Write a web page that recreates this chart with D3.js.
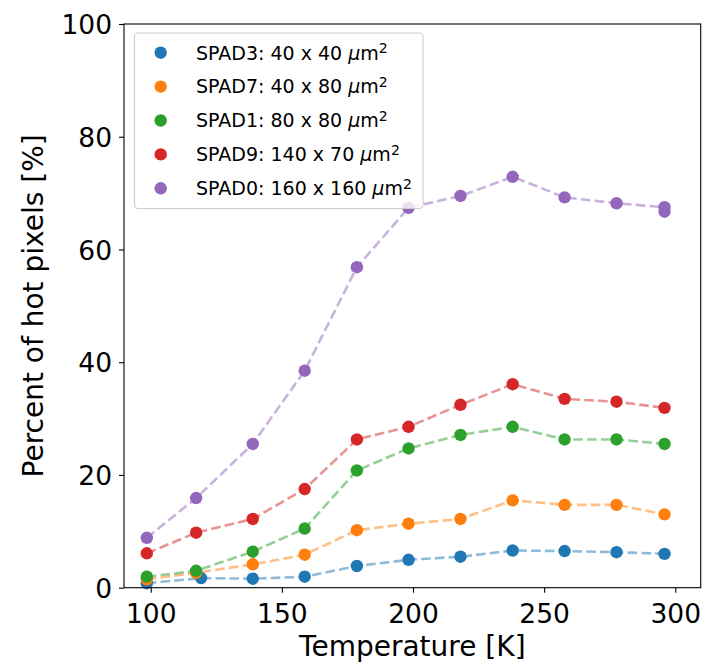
<!DOCTYPE html>
<html>
<head>
<meta charset="utf-8">
<script src="https://cdn.jsdelivr.net/npm/d3@7"></script>
<style>
  html, body { margin: 0; padding: 0; background: #fff; }
  svg { display: block; font-family: "DejaVu Sans", sans-serif; }
</style>
</head>
<body>
<div id="chart"></div>
<script>
// ---- data ----
const temperature = [98.5, 117.3, 138.9, 158.7, 178.6, 198.3, 218.1, 238.0, 257.8, 277.6, 295.9];
const temperatureSpad3 = [98.5, 119.2, 138.9, 158.7, 178.6, 198.3, 218.1, 238.0, 257.8, 277.6, 295.9];
const temperatureSpad0 = [98.5, 117.3, 138.9, 158.7, 178.6, 198.3, 218.1, 238.0, 257.8, 277.6, 295.9, 295.9];
const spad3 = [0.8, 1.7, 1.6, 1.95, 3.85, 4.95, 5.5, 6.6, 6.5, 6.3, 6.0];
const spad7 = [1.5, 2.65, 4.15, 5.85, 10.2, 11.35, 12.2, 15.5, 14.7, 14.7, 13.0];
const spad1 = [1.95, 3.0, 6.4, 10.5, 20.8, 24.7, 27.1, 28.55, 26.3, 26.3, 25.5];
const spad9 = [6.1, 9.75, 12.2, 17.5, 26.3, 28.55, 32.45, 36.1, 33.5, 33.0, 31.9];
const spad0 = [8.85, 15.9, 25.5, 38.5, 56.85, 67.4, 69.5, 72.9, 69.25, 68.2, 67.5, 66.7];
const seriesNames = ["SPAD3: 40 x 40 ", "SPAD7: 40 x 80 ", "SPAD1: 80 x 80 ", "SPAD9: 140 x 70 ", "SPAD0: 160 x 160 "];
const colors = ["#1f77b4", "#ff7f0e", "#2ca02c", "#d62728", "#9467bd"];
const xTicks = [100, 150, 200, 250, 300];
const yTicks = [0, 20, 40, 60, 80, 100];

const series = [
  { name: seriesNames[0], x: temperatureSpad3, y: spad3, color: colors[0] },
  { name: seriesNames[1], x: temperature, y: spad7, color: colors[1] },
  { name: seriesNames[2], x: temperature, y: spad1, color: colors[2] },
  { name: seriesNames[3], x: temperature, y: spad9, color: colors[3] },
  { name: seriesNames[4], x: temperatureSpad0, y: spad0, color: colors[4] }
];

// ---- layout ----
const W = 704, H = 662;
const mLeft = 124, mRight = 700.7, mTop = 24, mBottom = 587.7;

const svg = d3.select("#chart").append("svg").attr("width", W).attr("height", H);

const x = d3.scaleLinear().domain([89.8, 309.7]).range([mLeft, mRight]);
const y = d3.scaleLinear().domain([0, 100]).range([mBottom, mTop]);

// axes
const xAxis = svg.append("g").attr("transform", `translate(0,${mBottom})`)
  .call(d3.axisBottom(x).tickValues(xTicks).tickSize(5).tickPadding(6).tickFormat(d3.format("d")));
const yAxis = svg.append("g").attr("transform", `translate(${mLeft},0)`)
  .call(d3.axisLeft(y).tickValues(yTicks).tickSize(5).tickPadding(7).tickFormat(d3.format("d")));
[xAxis, yAxis].forEach(g => {
  g.select(".domain").remove();
  g.selectAll(".tick line").attr("stroke", "#000").attr("stroke-width", 1.1);
  g.selectAll(".tick text").attr("fill", "#000").style("font-size", "26.5px")
    .style("font-family", "DejaVu Sans");
});
xAxis.selectAll(".tick text").attr("dy", "0.9em");
yAxis.selectAll(".tick text").attr("dy", "0.36em");

// lines
const line = d3.line().x(d => x(d[0])).y(d => y(d[1]));
const plot = svg.append("g");
series.forEach(s => {
  const pts = s.x.map((t, i) => [t, s.y[i]]);
  plot.append("path").datum(pts).attr("d", line)
    .attr("fill", "none").attr("stroke", s.color).attr("stroke-opacity", 0.5)
    .attr("stroke-width", 2.6).attr("stroke-dasharray", "9.6,4.2");
});
series.forEach(s => {
  const pts = s.x.map((t, i) => [t, s.y[i]]);
  plot.selectAll(null).data(pts).enter().append("circle")
    .attr("cx", d => x(d[0])).attr("cy", d => y(d[1])).attr("r", 6.2)
    .attr("fill", s.color);
});

// frame
svg.append("rect").attr("x", mLeft).attr("y", mTop).attr("width", mRight - mLeft).attr("height", mBottom - mTop)
  .attr("fill", "none").attr("stroke", "#000").attr("stroke-width", 1.1);

// axis labels
svg.append("text").attr("x", (mLeft + mRight) / 2).attr("y", 656).attr("text-anchor", "middle")
  .style("font-size", "28px").text("Temperature [K]");
svg.append("text").attr("transform", `translate(43,${(mTop + mBottom) / 2}) rotate(-90)`)
  .attr("text-anchor", "middle").style("font-size", "28px").text("Percent of hot pixels [%]");

// legend
const lg = svg.append("g");
lg.append("rect").attr("x", 134.5).attr("y", 33).attr("width", 288.5).attr("height", 175.5)
  .attr("rx", 4).attr("fill", "#fff").attr("fill-opacity", 0.8).attr("stroke", "#cccccc").attr("stroke-width", 1.1);
series.forEach((s, i) => {
  const cy = 52.7 + i * 33.9;
  lg.append("circle").attr("cx", 160.7).attr("cy", cy).attr("r", 6.2).attr("fill", s.color);
  const t = lg.append("text").attr("x", 196).attr("y", cy).attr("dy", "0.36em").style("font-size", "19px").attr("fill", "#000");
  t.append("tspan").text(s.name);
  t.append("tspan").style("font-style", "italic").text("μ");
  t.append("tspan").text("m");
  t.append("tspan").attr("dy", "-0.45em").style("font-size", "14px").text("2");
});
</script>
</body>
</html>
